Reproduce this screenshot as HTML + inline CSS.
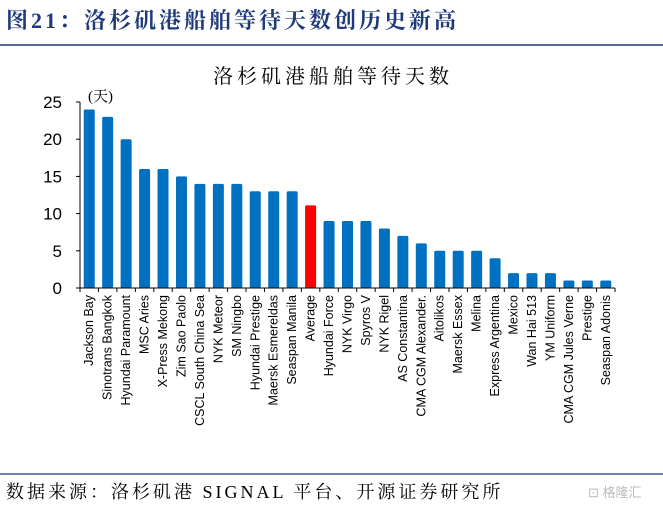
<!DOCTYPE html>
<html><head><meta charset="utf-8"><style>
body{margin:0;background:#fff;width:663px;height:507px;overflow:hidden;font-family:"Liberation Serif","Noto Serif CJK SC",serif;}
</style></head><body>
<svg width="663" height="507" xmlns="http://www.w3.org/2000/svg">
<text x="6" y="28" font-size="22" font-weight="bold" letter-spacing="3" fill="#1f3a7a" font-family="Liberation Serif, Noto Serif CJK SC, serif">图21：洛杉矶港船舶等待天数创历史新高</text>
<line x1="0" y1="45" x2="663" y2="45" stroke="#1f3a7a" stroke-width="1.5"/>
<text x="333" y="83" font-size="20" letter-spacing="4" text-anchor="middle" fill="#000" font-family="Liberation Serif, Noto Serif CJK SC, serif">洛杉矶港船舶等待天数</text>
<text x="88" y="101" font-size="15" fill="#000" font-family="Liberation Serif, Noto Serif CJK SC, serif">(天)</text>
<g id="plot"></g>
<line x1="0" y1="474" x2="663" y2="474" stroke="#1f3a7a" stroke-width="1.2"/>
<text x="6" y="498" font-size="18" letter-spacing="3" fill="#000" font-family="Liberation Serif, Noto Serif CJK SC, serif">数据来源：洛杉矶港 SIGNAL 平台、开源证券研究所</text>
<text x="588" y="497" font-size="13" fill="#bbb" font-family="Liberation Sans, Noto Sans CJK SC, sans-serif">⊡ 格隆汇</text>
</svg>
<script>
const categories=["Jackson Bay","Sinotrans Bangkok","Hyundai Paramount","MSC Aries","X-Press Mekong","Zim Sao Paolo","CSCL South China Sea","NYK Meteor","SM Ningbo","Hyundai Prestige","Maersk Esmereldas","Seaspan Manila","Average","Hyundai Force","NYK Virgo","Spyros V","NYK Rigel","AS Constantina","CMA CGM Alexander.","Aitolikos","Maersk Essex","Melina","Express Argentina","Mexico","Wan Hai 513","YM Uniform","CMA CGM Jules Verne","Prestige","Seaspan Adonis"];
const values=[24,23,20,16,16,15,14,14,14,13,13,13,11.1,9,9,9,8,7,6,5,5,5,4,2,2,2,1,1,1];
const yTicks=[0,5,10,15,20,25];
const NS="http://www.w3.org/2000/svg";
const g=document.getElementById('plot');
const x0=80,x1=615,yb=288,yt=102,ymax=25;
const step=(x1-x0)/categories.length;
const y=v=>yb-(v/ymax)*(yb-yt);
const xc=i=>x0+step*(i+0.5);
function mk(t,a){const e=document.createElementNS(NS,t);for(const k in a)e.setAttribute(k,a[k]);g.appendChild(e);return e;}
values.forEach((v,i)=>{
 const r=mk('rect',{x:xc(i)-5.5,y:y(v),width:11,height:yb-y(v),rx:1.5,fill:categories[i]==="Average"?"#ff0000":"#0070c0"});
 
 
 const t=mk('text',{transform:`translate(${xc(i)+4},${yb+7}) rotate(-90)`,'text-anchor':'end','font-size':12.5,'font-family':'Liberation Sans, sans-serif',fill:'#000'});
 t.textContent=categories[i];
 
 
});
const ax=mk('line',{x1:x0,y1:yt,x2:x0,y2:yb,stroke:'#000','stroke-width':1});


const bx=mk('line',{x1:x0,y1:yb,x2:x1,y2:yb,stroke:'#000','stroke-width':1});


for(let i=0;i<=categories.length;i++){const l=mk('line',{x1:x0+step*i,y1:yb,x2:x0+step*i,y2:yb+4,stroke:'#000'});}
yTicks.forEach(v=>{
 const l=mk('line',{x1:x0-4,y1:y(v),x2:x0,y2:y(v),stroke:'#000'});
 
 
 const t=mk('text',{x:x0-18,y:y(v)+6,'text-anchor':'end','font-size':17,'font-family':'Liberation Sans, sans-serif',fill:'#000'});
 t.textContent=v;
 
 
});
</script>
</body></html>
